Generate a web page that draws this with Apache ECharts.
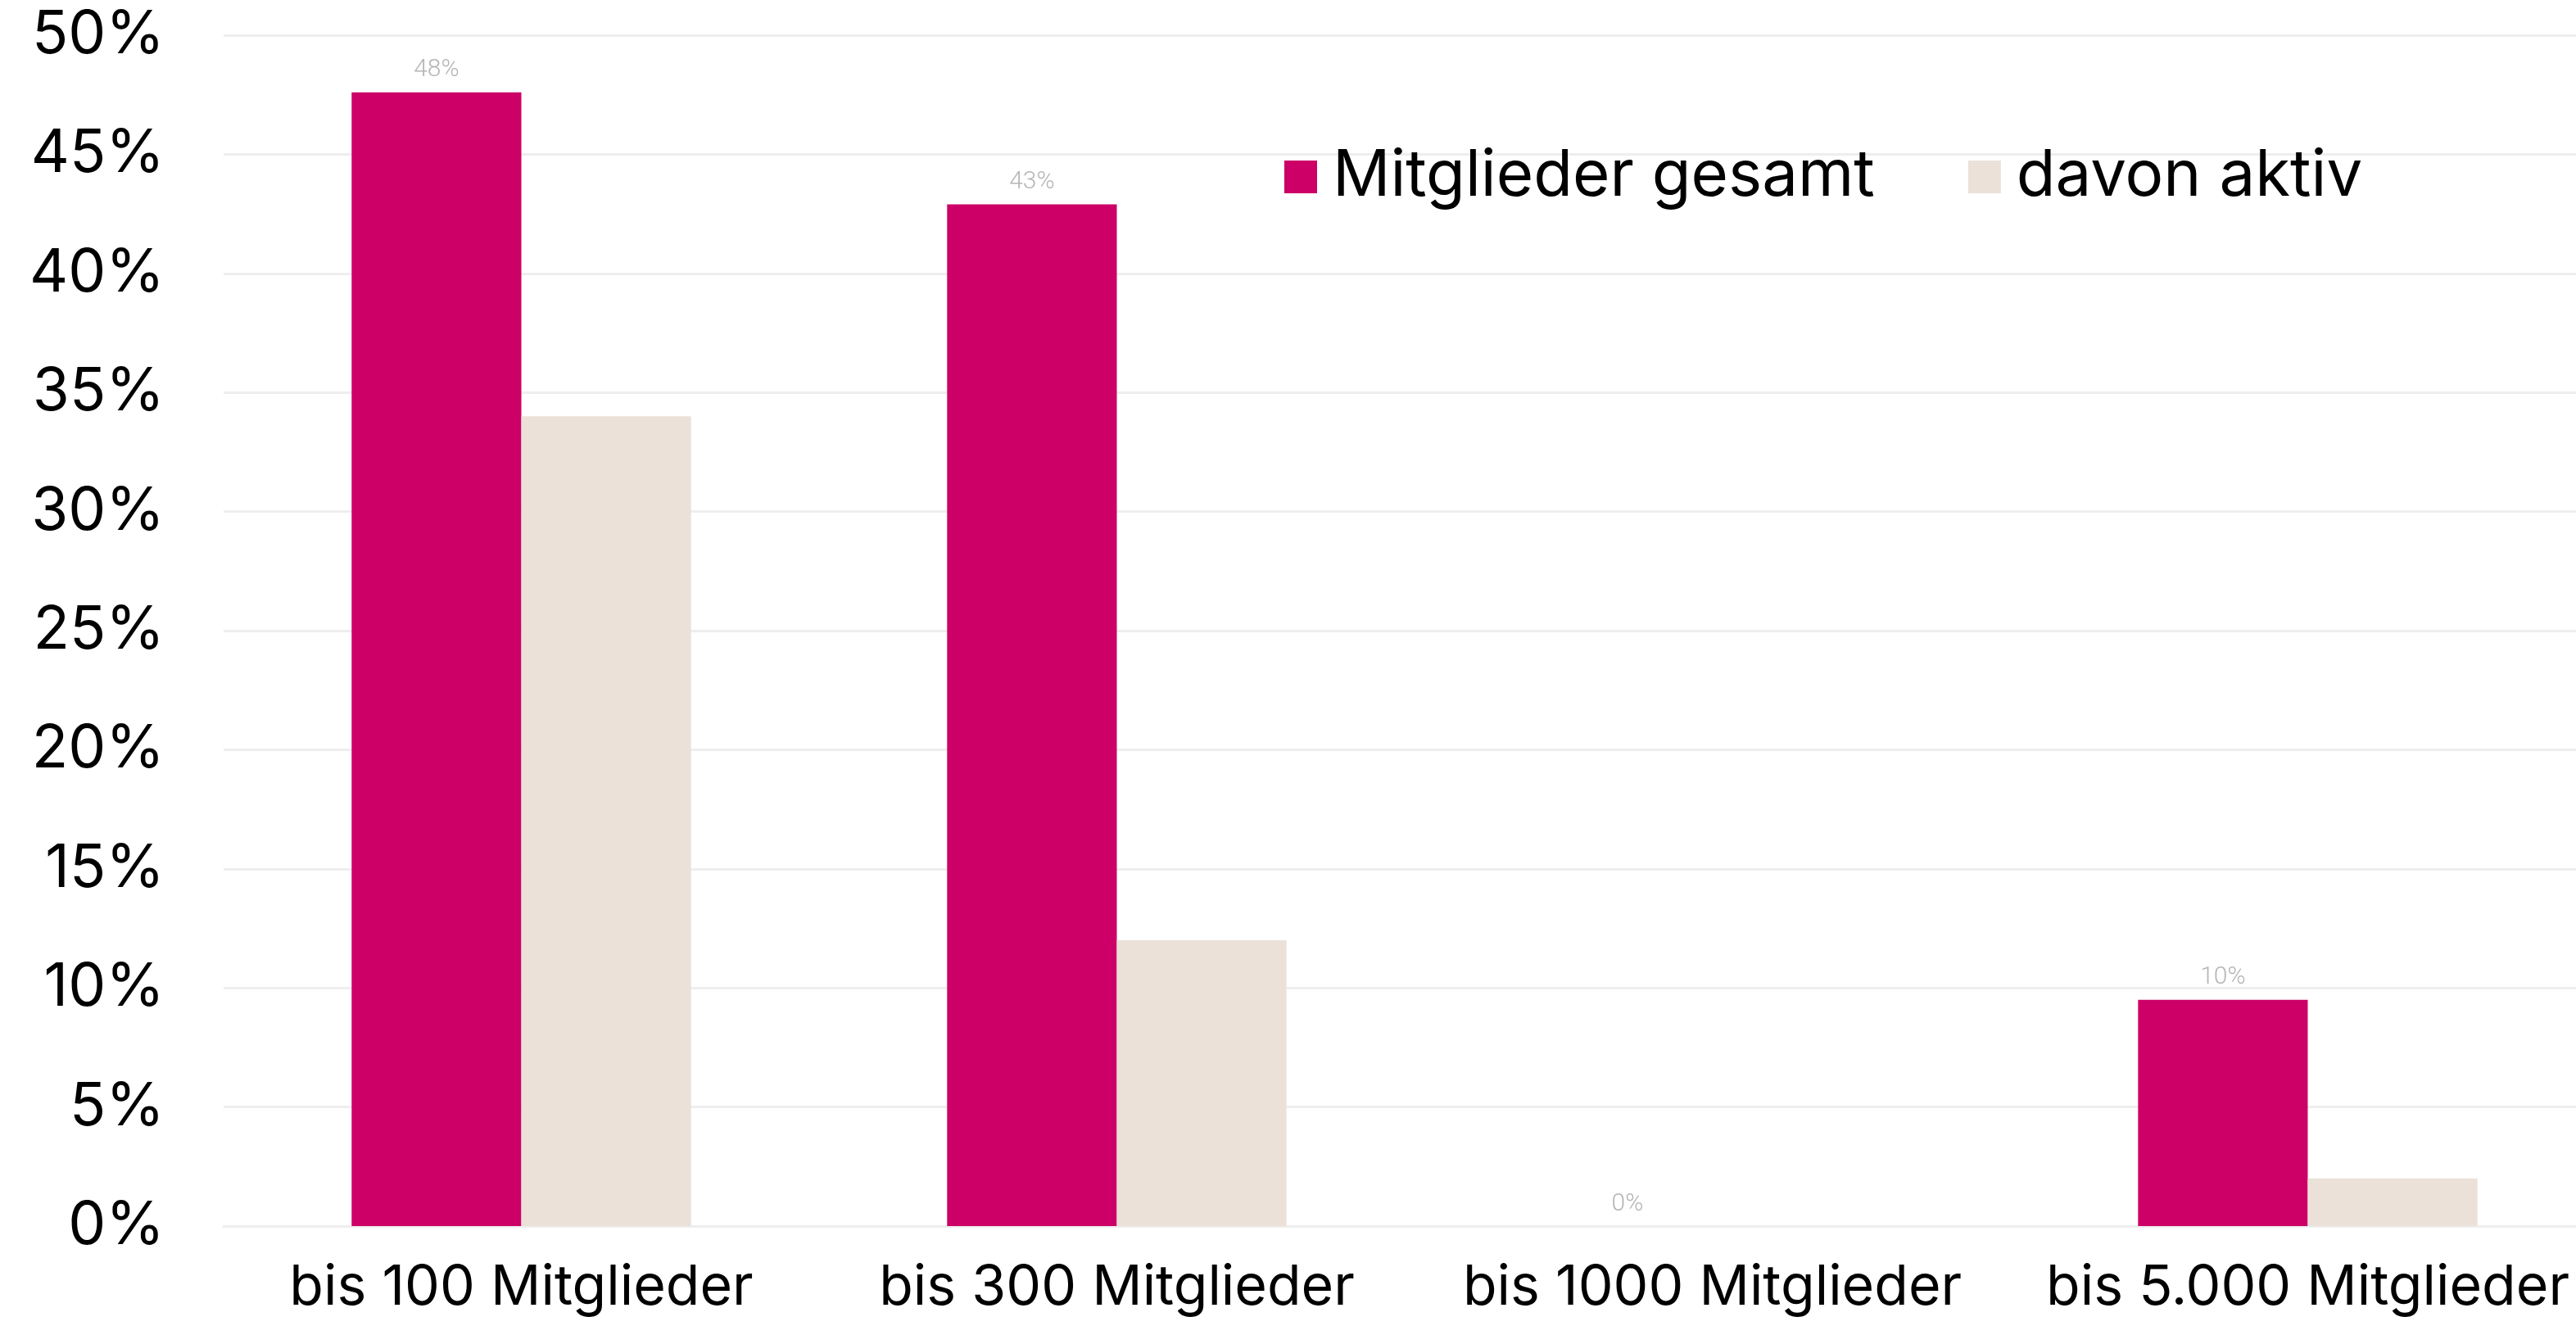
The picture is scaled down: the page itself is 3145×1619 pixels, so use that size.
<!DOCTYPE html>
<html>
<head>
<meta charset="utf-8">
<script src="https://cdn.jsdelivr.net/npm/echarts@6/dist/echarts.min.js"></script>
<style>
  html, body { margin: 0; padding: 0; background: #ffffff; overflow: hidden; }
  /* the source chart runs past the right edge of the picture, so the canvas is a bit wider than the window */
  #chart { width: 3181px; height: 1619px; }
</style>
</head>
<body>
<div id="chart"></div>
<script>
const categories = ['bis 100 Mitglieder', 'bis 300 Mitglieder', 'bis 1000 Mitglieder', 'bis 5.000 Mitglieder'];
const gesamt = [47.6, 42.9, 0, 9.5];
const aktiv = [34, 12, 0, 2];
const seriesNames = ['Mitglieder gesamt', 'davon aktiv'];

const chart = echarts.init(document.getElementById('chart'));

const font = 'Inter, "Open Sans", sans-serif';

const option = {
  backgroundColor: '#ffffff',
  textStyle: { fontFamily: font },
  legend: {
    data: seriesNames,
    left: 1563,
    top: 172,
    itemWidth: 40,
    itemHeight: 40,
    itemGap: 114,
    icon: 'rect',
    textStyle: {
      fontSize: 78,
      color: '#000000',
      fontFamily: font,
      padding: [0, 0, 0, 14]
    }
  },
  grid: {
    left: 273,
    right: 0,
    top: 43,
    bottom: 122
  },
  xAxis: {
    type: 'category',
    data: categories,
    axisLine: { lineStyle: { color: '#eeeeee', width: 3 } },
    axisTick: { show: false },
    axisLabel: {
      interval: 0,
      color: '#000000',
      fontSize: 68,
      margin: 42,
      fontFamily: font
    }
  },
  yAxis: {
    type: 'value',
    min: 0,
    max: 50,
    interval: 5,
    axisLine: { show: false },
    axisTick: { show: false },
    axisLabel: {
      formatter: '{value}%',
      color: '#000000',
      fontSize: 73,
      margin: 72,
      fontFamily: font
    },
    splitLine: { lineStyle: { color: '#eeeeee', width: 3 } }
  },
  series: [
    {
      name: seriesNames[0],
      type: 'bar',
      data: gesamt,
      barGap: '0%',
      barCategoryGap: '43%',
      itemStyle: { color: '#cc0066' },
      label: {
        show: true,
        position: 'top',
        distance: 12,
        fontSize: 30,
        fontWeight: 300,
        fontFamily: 'Roboto, sans-serif',
        color: '#b5b5b5',
        formatter: p => Math.round(p.value) + '%'
      }
    },
    {
      name: seriesNames[1],
      type: 'bar',
      data: aktiv,
      itemStyle: { color: '#ebe1d8' }
    }
  ]
};

chart.setOption(option);
</script>
</body>
</html>
